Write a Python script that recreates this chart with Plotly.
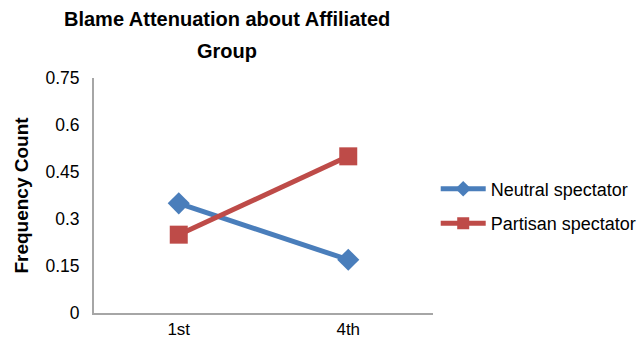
import plotly.graph_objects as go

categories = ["1st", "4th"]
neutral = [0.35, 0.17]
partisan = [0.25, 0.50]
y_ticks = [0, 0.15, 0.3, 0.45, 0.6, 0.75]
y_tick_text = ["0", "0.15", "0.3", "0.45", "0.6", "0.75"]
title_lines = ["Blame Attenuation about Affiliated", "Group"]

blue = "#4A7EBB"
red = "#BE4B48"

fig = go.Figure()
fig.add_trace(go.Scatter(
    x=categories, y=neutral, name="Neutral spectator", mode="lines+markers",
    line=dict(color=blue, width=5),
    marker=dict(symbol="diamond", size=17, color=blue),
    legendgroup="a",
))
fig.add_trace(go.Scatter(
    x=categories, y=partisan, name="Partisan spectator", mode="lines+markers",
    line=dict(color=red, width=5),
    marker=dict(symbol="square", size=18, color=red),
    legendgroup="b",
))

font_family = "Liberation Sans, Arial, sans-serif"

# two-line bold title, centred over the plot
for i, line in enumerate(title_lines):
    fig.add_annotation(
        text=f"<b>{line}</b>", xref="paper", yref="paper",
        x=(227 - 94) / 339, y=1 + (78 - (19 + 32 * i)) / 235,
        xanchor="center", yanchor="middle", showarrow=False,
        font=dict(size=20, family=font_family, color="black"),
    )

fig.update_layout(
    width=638, height=340,
    margin=dict(l=94, r=205, t=78, b=27, autoexpand=False),
    paper_bgcolor="white", plot_bgcolor="white",
    font=dict(family=font_family, size=17.5, color="black"),
    showlegend=True,
    legend=dict(
        x=1.008, xanchor="left", y=0.455, yanchor="middle",
        font=dict(size=18, family=font_family),
        tracegroupgap=8, bgcolor="rgba(0,0,0,0)",
        itemsizing="constant", itemwidth=45,
    ),
    xaxis=dict(
        type="category", range=[-0.5, 1.5], automargin=False,
        showline=True, linecolor="#A6A6A6", linewidth=2,
        showgrid=False, zeroline=False, ticks="",
        tickfont=dict(size=17), ticklabelstandoff=0,
    ),
    yaxis=dict(
        range=[0, 0.75], tickvals=y_ticks, ticktext=y_tick_text, automargin=False,
        showline=True, linecolor="#A6A6A6", linewidth=2,
        showgrid=False, zeroline=False, ticks="",
        tickfont=dict(size=17.5), ticklabelstandoff=9,
        title=dict(text="<b>Frequency Count</b>", font=dict(size=19), standoff=12),
    ),
)

fig.write_html("out.html")
